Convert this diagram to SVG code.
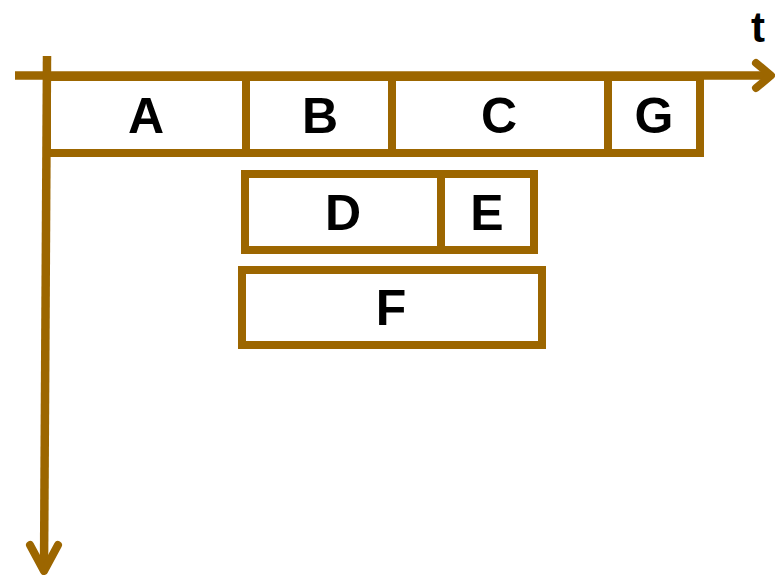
<svg xmlns="http://www.w3.org/2000/svg" width="775" height="575" viewBox="0 0 775 575">
<style>
.box{fill:none;stroke:#9C6600;stroke-width:8}
.ax{fill:none;stroke:#9C6600;stroke-width:8.5;stroke-linecap:butt}
.head{fill:none;stroke:#9C6600;stroke-width:8;stroke-linecap:round;stroke-linejoin:round}
.lbl{font-family:"Comic Sans MS","Liberation Sans",sans-serif;font-weight:bold;font-size:50px;fill:#000;text-anchor:middle}
</style>
<rect width="775" height="575" fill="#fff"/>
<g id="connectors">
<line class="ax" x1="15" y1="75.5" x2="770" y2="75.5"/>
<polyline class="head" points="756,63 771,75.5 756,88"/>
<line class="ax" x1="47" y1="56" x2="44" y2="570"/>
<polyline class="head" points="30,545 44,571 58,545"/>
</g>
<g id="A"><rect class="box" x="47" y="77" width="199" height="76"/><text class="lbl" x="146" y="133">A</text></g>
<g id="B"><rect class="box" x="246" y="77" width="146" height="76"/><text class="lbl" x="320" y="133">B</text></g>
<g id="C"><rect class="box" x="392" y="77" width="216" height="76"/><text class="lbl" x="499" y="133">C</text></g>
<g id="G"><rect class="box" x="608" y="77" width="92" height="76"/><text class="lbl" x="654" y="133">G</text></g>
<g id="D"><rect class="box" x="245" y="174" width="196" height="76"/><text class="lbl" x="343" y="230">D</text></g>
<g id="E"><rect class="box" x="441" y="174" width="93" height="76"/><text class="lbl" x="487" y="230">E</text></g>
<g id="F"><rect class="box" x="242" y="270" width="300" height="75"/><text class="lbl" x="391" y="325">F</text></g>
<g id="t"><text class="lbl" x="758" y="42" style="font-size:42px">t</text></g>
</svg>
